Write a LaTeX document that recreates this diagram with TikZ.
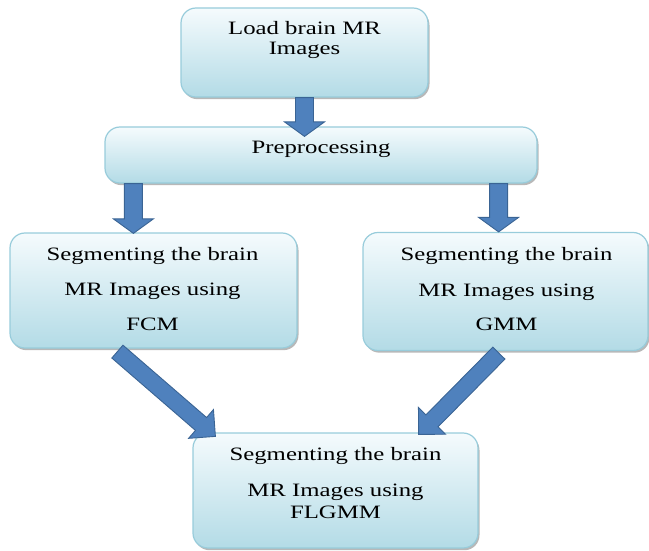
\documentclass[tikz,border=0pt]{standalone}
\usepackage{fontspec}
\setmainfont[FakeStretch=1.31]{Liberation Serif}
\usetikzlibrary{calc,shadows}

\definecolor{arrowfill}{HTML}{4F81BD}
\definecolor{arrowline}{HTML}{3A6494}
\definecolor{boxtop}{HTML}{F5FBFD}
\definecolor{boxbot}{HTML}{B3DBE6}
\definecolor{boxline}{HTML}{98CCDB}

\tikzset{
  box/.style={draw=boxline, line width=1.2pt, rounded corners=15pt,
    top color=boxtop, bottom color=boxbot,
    drop shadow={shadow xshift=1.5pt, shadow yshift=-2.2pt, fill=black, opacity=0.28},
    inner sep=0pt},
  txt/.style={anchor=base, inner sep=0pt, font=\fontsize{18.9}{22}\selectfont},
  barrow/.style={draw=arrowline, line width=0.9pt, fill=arrowfill, line join=miter}
}

% block arrow from #1 (tail) to #2 (tip): half shaft width #3, half head width #4, head length #5
\newcommand\blockarrow[5]{%
  \coordinate (hb) at ($(#2)!#5!(#1)$);
  \draw[barrow] ($(#1)!#3!90:(#2)$) -- ($(hb)!#3!90:(#2)$) -- ($(hb)!#4!90:(#2)$)
    -- (#2) -- ($(hb)!#4!-90:(#2)$) -- ($(hb)!#3!-90:(#2)$) -- ($(#1)!#3!-90:(#2)$) -- cycle;
}

\begin{document}
\begin{tikzpicture}[x=1pt, y=-1pt]
\useasboundingbox (0,0) rectangle (649,551);

% boxes
\node[box, minimum width=247pt, minimum height=89pt] (load) at (304.5,52.5) {};
\node[box, minimum width=432pt, minimum height=56pt] (prep) at (321,155) {};
\node[box, minimum width=287pt, minimum height=115pt] (fcm) at (153.5,290.5) {};
\node[box, minimum width=285pt, minimum height=118pt] (gmm) at (505.5,291.5) {};
\node[box, minimum width=285pt, minimum height=115pt] (flgmm) at (335.5,490.5) {};

% texts
\node[txt] (t1a) at (304.5,35) {Load brain MR};
\node[txt] (t1b) at (304.5,55) {Images};
\node[txt] (t2) at (321,153.3) {Preprocessing};
\node[txt] (t3a) at (152.5,260.7) {Segmenting the brain};
\node[txt] (t3b) at (152.5,295.7) {MR Images using};
\node[txt] (t3c) at (152.5,330.7) {FCM};
\node[txt] (t4a) at (506.5,260.5) {Segmenting the brain};
\node[txt] (t4b) at (506.5,296) {MR Images using};
\node[txt] (t4c) at (506.5,330.5) {GMM};
\node[txt] (t5a) at (335.5,460.7) {Segmenting the brain};
\node[txt] (t5b) at (335.5,496.7) {MR Images using};
\node[txt] (t5c) at (335.5,518.3) {FLGMM};

% arrow end points
\coordinate (a1s) at (load.south);
\coordinate (a1e) at ($(prep.north)+(-16.5,10)$);
\coordinate (a2s) at ($(prep.south west)+(29,0)$);
\coordinate (a2e) at ($(a2s |- fcm.north)+(0,1)$);
\coordinate (a3s) at ($(prep.south east)+(-39,0)$);
\coordinate (a3e) at ($(a3s |- gmm.north)+(0,0)$);
\coordinate (a4s) at ($(fcm.south west)+(108,3)$);
\coordinate (a4e) at ($(flgmm.north west)+(23,4)$);
\coordinate (a5s) at ($(gmm.south west)+(136.5,2)$);
\coordinate (a5e) at ($(flgmm.north east)+(-60,2)$);

% block arrows
\blockarrow{a1s}{a1e}{9pt}{20pt}{14.5pt}
\blockarrow{a2s}{a2e}{9pt}{20pt}{14.5pt}
\blockarrow{a3s}{a3e}{9pt}{20pt}{14.5pt}
\blockarrow{a4s}{a4e}{8.5pt}{19pt}{19pt}
\blockarrow{a5s}{a5e}{8.5pt}{19pt}{19pt}
\end{tikzpicture}
\end{document}
